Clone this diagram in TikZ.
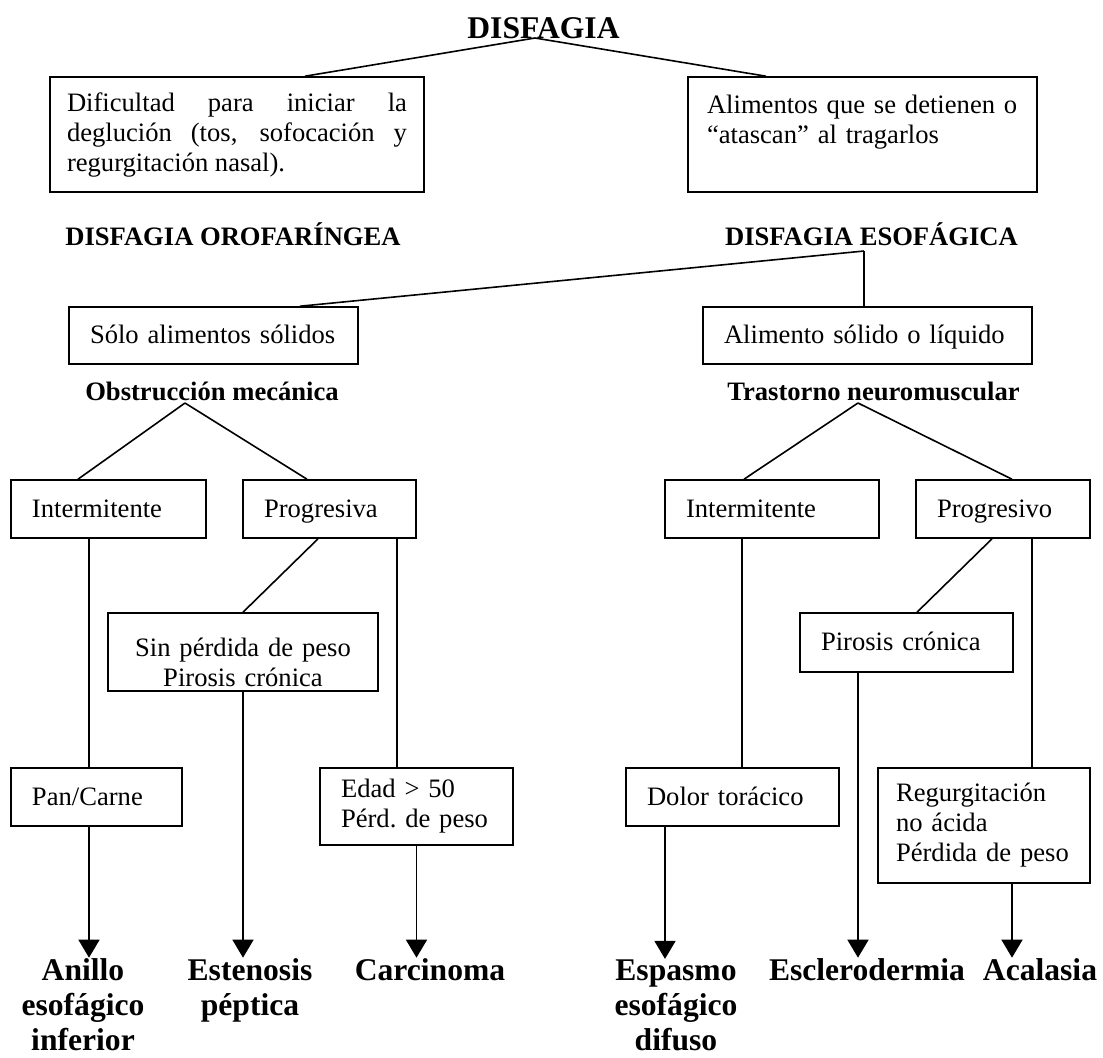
\documentclass[tikz,border=0pt]{standalone}
\usepackage{fontspec}
\setmainfont{Liberation Serif}
\usetikzlibrary{arrows.meta}
\hyphenpenalty=10000
\exhyphenpenalty=10000

\begin{document}
\begin{tikzpicture}[x=0.5pt,y=-0.5pt,
    caja/.style={draw,line width=0.8pt,inner xsep=10.5pt,inner ysep=0pt,align=left,
      font=\fontsize{13.3}{15}\selectfont},
    unica/.style={caja,text height=10pt,text depth=2pt},
    rotulo/.style={font=\fontsize{13.3}{15}\selectfont\bfseries,inner sep=0pt,anchor=base},
    final/.style={font=\fontsize{15.8}{17.7}\selectfont\bfseries,inner sep=0pt,anchor=base,align=center},
    linea/.style={line width=0.8pt},
    flecha/.style={line width=0.8pt,-{Triangle[width=10.5pt,length=9pt]}}]
  \useasboundingbox (0,0) rectangle (1103,1057);

  % titulo y los dos tipos
  \node[rotulo,font=\fontsize{15.8}{18}\selectfont\bfseries] (disf) at (543.5,38) {DISFAGIA};
  \node[caja,inner xsep=8.5pt,align=justify,text width=170pt,minimum height=57.5pt] (dific) at (237,134.5)
    {Dificultad para iniciar la deglución (tos, sofocación y regurgitación nasal).};
  \node[caja,inner xsep=9.5pt,text width=155.5pt,minimum height=57.5pt] (deti) at (862.5,134.5)
    {\mbox{Alimentos que se detienen o}\\“atascan” al tragarlos\\\mbox{}};
  \draw[linea] ([xshift=-4.25pt]disf.base) -- ([xshift=34pt]dific.north);
  \draw[linea] ([xshift=-4.25pt]disf.base) -- ([xshift=-48.25pt]deti.north);
  \node[rotulo] (orof) at (233,245) {DISFAGIA OROFARÍNGEA};
  \node[rotulo] (esof) at (871.5,245) {DISFAGIA ESOFÁGICA};

  % disfagia esofagica
  \node[unica,text width=123.5pt,minimum height=28.5pt] (solo) at (213.5,335.5) {Sólo alimentos sólidos};
  \node[unica,text width=143.5pt,minimum height=28.5pt] (liq) at (867.5,335.5) {Alimento sólido o líquido};
  \draw[linea] ([xshift=-3.75pt,yshift=-3pt]esof.base) -- ([xshift=43.25pt]solo.north);
  \draw[linea] ([xshift=-3.75pt,yshift=-3pt]esof.base) -- ([xshift=-3.75pt]esof.base |- liq.north);
  \node[rotulo] (obst) at (212,400) {Obstrucción mecánica};
  \node[rotulo] (tras) at (873.5,400) {Trastorno neuromuscular};

  % obstruccion mecanica
  \node[unica,text width=76.5pt,minimum height=29pt] (intA) at (108.5,509) {Intermitente};
  \node[unica,text width=65.5pt,minimum height=29pt] (progA) at (329.5,509) {Progresiva};
  \draw[linea] ([xshift=-13.5pt,yshift=-1.5pt]obst.base) -- ([xshift=-15.25pt]intA.north);
  \draw[linea] ([xshift=-13.5pt,yshift=-1.5pt]obst.base) -- ([xshift=-11.25pt]progA.north);
  \node[caja,align=center,text width=114pt,minimum height=39pt,text depth=5pt] (sinp) at (243,652)
    {Sin pérdida de peso\\Pirosis crónica};
  \node[unica,text width=64.5pt,minimum height=29pt] (pan) at (96.5,797) {Pan/Carne};
  \node[caja,text width=75.5pt,minimum height=38.5pt] (edad) at (416.5,806.5)
    {\mbox{Edad > 50}\\\mbox{Pérd.\ de peso}};
  \draw[linea] ([xshift=-9.75pt]intA.south) -- ([xshift=-9.75pt]intA.south |- pan.north);
  \draw[linea] ([xshift=-5.75pt]progA.south) -- (sinp.north);
  \draw[linea] ([xshift=33.75pt]progA.south) -- ([xshift=33.75pt]progA.south |- edad.north);

  % trastorno neuromuscular
  \node[unica,text width=86pt,minimum height=29pt] (intB) at (772,509) {Intermitente};
  \node[unica,text width=66pt,minimum height=29pt] (progB) at (1003,509) {Progresivo};
  \draw[linea] ([xshift=-7.75pt,yshift=-1.5pt]tras.base) -- ([xshift=-14pt]intB.north);
  \draw[linea] ([xshift=-7.75pt,yshift=-1.5pt]tras.base) -- ([xshift=4.5pt]progB.north);
  \node[unica,text width=85.5pt,minimum height=29.5pt] (piro) at (906.5,642.5) {Pirosis crónica};
  \node[unica,text width=85.5pt,minimum height=29pt] (dolor) at (732.5,797) {Dolor torácico};
  \node[caja,inner xsep=9pt,text width=88pt,minimum height=57.5pt] (regu) at (984,825.5)
    {Regurgitación\\no ácida\\\mbox{Pérdida de peso}};
  \draw[linea] ([xshift=-15pt]intB.south) -- ([xshift=-15pt]intB.south |- dolor.north);
  \draw[linea] ([xshift=-5.5pt]progB.south) -- ([xshift=5.25pt]piro.north);
  \draw[linea] ([xshift=14.5pt]progB.south) -- ([xshift=14.5pt]progB.south |- regu.north);

  % diagnosticos (base = ultima linea)
  \node[final] (anil) at (83,1050.8) {Anillo\\esofágico\\inferior};
  \node[final] (este) at (250,1015.4) {Estenosis\\péptica};
  \node[final] (carc) at (430,980) {Carcinoma};
  \node[final] (espa) at (676,1050.8) {Espasmo\\esofágico\\difuso};
  \node[final] (escl) at (867,980) {Esclerodermia};
  \node[final] (acal) at (1040,980) {Acalasia};
  \draw[flecha] ([xshift=-3.75pt]pan.south) -- ([xshift=-3.75pt]pan.south |- anil.north);
  \draw[flecha] (sinp.south) -- (sinp.south |- este.north);
  \draw[flecha] (edad.south) -- (edad.south |- carc.north);
  \draw[flecha] ([xshift=-33.75pt]dolor.south) -- ([xshift=-33.75pt]dolor.south |- espa.north);
  \draw[flecha] ([xshift=-24.25pt]piro.south) -- ([xshift=-24.25pt]piro.south |- escl.north);
  \draw[flecha] ([xshift=14pt]regu.south) -- ([xshift=14pt]regu.south |- acal.north);
\end{tikzpicture}
\end{document}
